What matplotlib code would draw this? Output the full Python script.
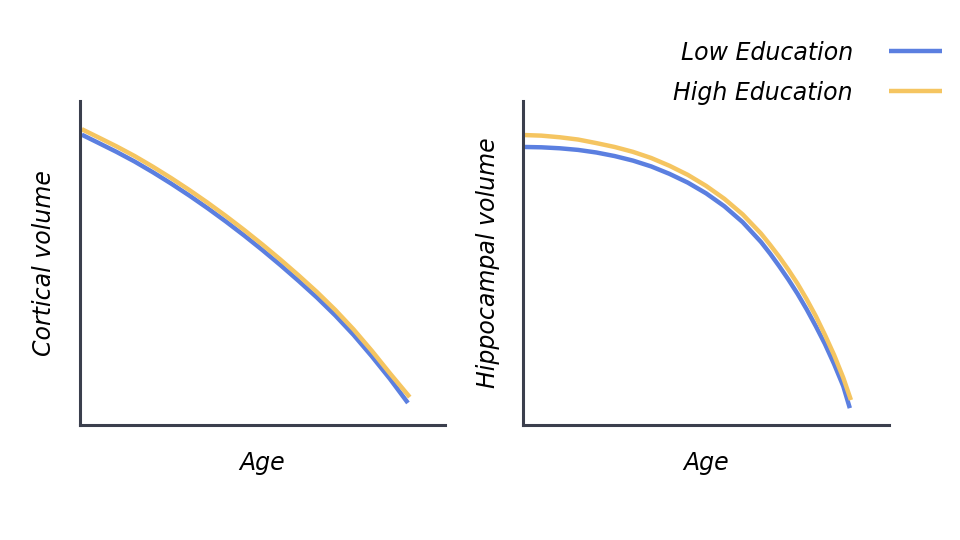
import matplotlib
import matplotlib.pyplot as plt

matplotlib.use("Agg")

# values (arbitrary units, age axis 0-100)
age_cortical_low = [0.5, 5, 10, 15, 20, 25, 30, 35, 40, 45, 50, 55, 60, 65, 70, 75, 80, 85, 89.9]
cortical_low = [89.6, 87.1, 84.3, 81.3, 78.0, 74.5, 70.8, 66.9, 62.8, 58.5, 54.0, 49.3, 44.4,
                39.3, 33.8, 27.8, 21.2, 14.2, 6.8]
age_cortical_high = [0.5, 5, 10, 15, 20, 25, 30, 35, 40, 45, 50, 55, 60, 65, 70, 75, 80, 85, 90.4]
cortical_high = [91.3, 88.8, 86.0, 83.0, 79.7, 76.2, 72.5, 68.6, 64.5, 60.2, 55.7, 51.0, 46.1,
                 41.0, 35.5, 29.5, 22.9, 15.9, 8.6]

age_hippo_low = [0.5, 5, 10, 15, 20, 25, 30, 35, 40, 45, 50, 55, 60, 65, 67.5, 70, 72.5,
                 75, 77.5, 80, 82.5, 85, 87.5, 89.3]
hippo_low = [85.8, 85.7, 85.4, 84.9, 84.1, 83.0, 81.6, 79.8, 77.5, 74.8, 71.5, 67.5, 62.6,
             56.5, 52.9, 49.0, 44.9, 40.5, 35.7, 30.5, 25.0, 18.8, 12.0, 5.2]
age_hippo_high = [0.0, 5, 10, 15, 20, 25, 30, 35, 40, 45, 50, 55, 60, 65, 67.5, 70, 72.5,
                  75, 77.5, 80, 82.5, 85, 87.5, 89.6]
hippo_high = [89.5, 89.3, 88.8, 88.1, 87.0, 85.8, 84.3, 82.4, 80.0, 77.2, 73.8, 69.8, 65.0,
              59.1, 55.6, 51.9, 47.9, 43.6, 38.8, 33.6, 27.8, 21.6, 14.6, 7.7]

labels = ["Low Education", "High Education"]
ylabels = ["Cortical volume", "Hippocampal volume"]

blue = "#5b7fe0"
yellow = "#f5c561"
spine_col = "#3b3f4d"

fig = plt.figure(figsize=(9.6, 5.4), dpi=100)
ax1 = fig.add_axes([0.0833, 0.213, 0.380, 0.600])
ax2 = fig.add_axes([0.545, 0.213, 0.381, 0.600])

ax1.plot(age_cortical_low, cortical_low, color=blue, lw=3.2, label=labels[0], solid_capstyle="butt")
ax1.plot(age_cortical_high, cortical_high, color=yellow, lw=3.2, label=labels[1], solid_capstyle="butt")
ax2.plot(age_hippo_low, hippo_low, color=blue, lw=3.2, solid_capstyle="butt")
ax2.plot(age_hippo_high, hippo_high, color=yellow, lw=3.2, solid_capstyle="butt")

font = dict(fontsize=17, fontstyle="italic", color="black")
for ax, yl in zip([ax1, ax2], ylabels):
    ax.set_xlim(0, 100)
    ax.set_ylim(0, 100)
    ax.set_xticks([])
    ax.set_yticks([])
    for s in ["top", "right"]:
        ax.spines[s].set_visible(False)
    for s in ["left", "bottom"]:
        ax.spines[s].set_color(spine_col)
        ax.spines[s].set_linewidth(2.2)
    ax.set_xlabel("Age", labelpad=19, **font)
    ax.set_ylabel(yl, labelpad=17, **font)

fig.legend(loc="upper right", bbox_to_anchor=(1.003, 0.964), frameon=False,
           markerfirst=False, handlelength=2.25, handletextpad=1.5, labelspacing=0.67,
           prop=dict(size=17, style="italic"))

fig.savefig("out.png", dpi=100)
